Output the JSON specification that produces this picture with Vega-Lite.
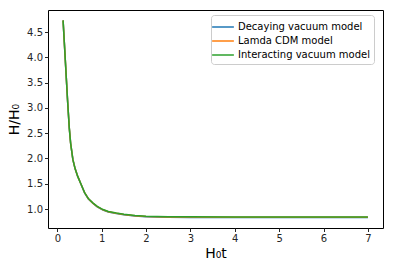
{
  "$schema": "https://vega.github.io/schema/vega-lite/v6.json",
  "width": 335,
  "height": 218,
  "autosize": {"type": "none"},
  "padding": {"left": 48, "top": 10, "right": 10, "bottom": 42},
  "config": {
    "font": "DejaVu Sans",
    "view": {"stroke": "black", "strokeWidth": 1},
    "axis": {"labelFont": "DejaVu Sans", "titleFont": "DejaVu Sans", "labelColor": "#262626", "tickColor": "#262626", "domain": false, "grid": false, "labelFontSize": 10, "tickSize": 3.5, "titleFontWeight": "normal", "titleFontSize": 14, "titleColor": "black"}
  },
  "data": {"values": [
    {"t": 0.13, "h": 4.73, "model": "Decaying vacuum model"},
    {"t": 0.23, "h": 3.16, "model": "Decaying vacuum model"},
    {"t": 0.27, "h": 2.6, "model": "Decaying vacuum model"},
    {"t": 0.3, "h": 2.3, "model": "Decaying vacuum model"},
    {"t": 0.35, "h": 1.98, "model": "Decaying vacuum model"},
    {"t": 0.4, "h": 1.8, "model": "Decaying vacuum model"},
    {"t": 0.46, "h": 1.645, "model": "Decaying vacuum model"},
    {"t": 0.53, "h": 1.5, "model": "Decaying vacuum model"},
    {"t": 0.615, "h": 1.32, "model": "Decaying vacuum model"},
    {"t": 0.7, "h": 1.2, "model": "Decaying vacuum model"},
    {"t": 0.8, "h": 1.115, "model": "Decaying vacuum model"},
    {"t": 0.9, "h": 1.045, "model": "Decaying vacuum model"},
    {"t": 1.03, "h": 0.98, "model": "Decaying vacuum model"},
    {"t": 1.15, "h": 0.943, "model": "Decaying vacuum model"},
    {"t": 1.33, "h": 0.91, "model": "Decaying vacuum model"},
    {"t": 1.5, "h": 0.886, "model": "Decaying vacuum model"},
    {"t": 1.75, "h": 0.862, "model": "Decaying vacuum model"},
    {"t": 2.0, "h": 0.848, "model": "Decaying vacuum model"},
    {"t": 2.5, "h": 0.838, "model": "Decaying vacuum model"},
    {"t": 3.0, "h": 0.834, "model": "Decaying vacuum model"},
    {"t": 4.0, "h": 0.832, "model": "Decaying vacuum model"},
    {"t": 5.0, "h": 0.832, "model": "Decaying vacuum model"},
    {"t": 6.0, "h": 0.832, "model": "Decaying vacuum model"},
    {"t": 7.0, "h": 0.832, "model": "Decaying vacuum model"},
    {"t": 0.13, "h": 4.73, "model": "Lamda CDM model"},
    {"t": 0.23, "h": 3.16, "model": "Lamda CDM model"},
    {"t": 0.27, "h": 2.6, "model": "Lamda CDM model"},
    {"t": 0.3, "h": 2.3, "model": "Lamda CDM model"},
    {"t": 0.35, "h": 1.98, "model": "Lamda CDM model"},
    {"t": 0.4, "h": 1.8, "model": "Lamda CDM model"},
    {"t": 0.46, "h": 1.645, "model": "Lamda CDM model"},
    {"t": 0.53, "h": 1.5, "model": "Lamda CDM model"},
    {"t": 0.615, "h": 1.322, "model": "Lamda CDM model"},
    {"t": 0.7, "h": 1.203, "model": "Lamda CDM model"},
    {"t": 0.8, "h": 1.118, "model": "Lamda CDM model"},
    {"t": 0.9, "h": 1.049, "model": "Lamda CDM model"},
    {"t": 1.03, "h": 0.985, "model": "Lamda CDM model"},
    {"t": 1.15, "h": 0.948, "model": "Lamda CDM model"},
    {"t": 1.33, "h": 0.916, "model": "Lamda CDM model"},
    {"t": 1.5, "h": 0.892, "model": "Lamda CDM model"},
    {"t": 1.75, "h": 0.868, "model": "Lamda CDM model"},
    {"t": 2.0, "h": 0.854, "model": "Lamda CDM model"},
    {"t": 2.5, "h": 0.844, "model": "Lamda CDM model"},
    {"t": 3.0, "h": 0.84, "model": "Lamda CDM model"},
    {"t": 4.0, "h": 0.838, "model": "Lamda CDM model"},
    {"t": 5.0, "h": 0.838, "model": "Lamda CDM model"},
    {"t": 6.0, "h": 0.838, "model": "Lamda CDM model"},
    {"t": 7.0, "h": 0.838, "model": "Lamda CDM model"},
    {"t": 0.13, "h": 4.73, "model": "Interacting vacuum model"},
    {"t": 0.23, "h": 3.16, "model": "Interacting vacuum model"},
    {"t": 0.27, "h": 2.6, "model": "Interacting vacuum model"},
    {"t": 0.3, "h": 2.3, "model": "Interacting vacuum model"},
    {"t": 0.35, "h": 1.98, "model": "Interacting vacuum model"},
    {"t": 0.4, "h": 1.8, "model": "Interacting vacuum model"},
    {"t": 0.46, "h": 1.645, "model": "Interacting vacuum model"},
    {"t": 0.53, "h": 1.5, "model": "Interacting vacuum model"},
    {"t": 0.615, "h": 1.324, "model": "Interacting vacuum model"},
    {"t": 0.7, "h": 1.206, "model": "Interacting vacuum model"},
    {"t": 0.8, "h": 1.122, "model": "Interacting vacuum model"},
    {"t": 0.9, "h": 1.053, "model": "Interacting vacuum model"},
    {"t": 1.03, "h": 0.99, "model": "Interacting vacuum model"},
    {"t": 1.15, "h": 0.953, "model": "Interacting vacuum model"},
    {"t": 1.33, "h": 0.921, "model": "Interacting vacuum model"},
    {"t": 1.5, "h": 0.897, "model": "Interacting vacuum model"},
    {"t": 1.75, "h": 0.873, "model": "Interacting vacuum model"},
    {"t": 2.0, "h": 0.859, "model": "Interacting vacuum model"},
    {"t": 2.5, "h": 0.849, "model": "Interacting vacuum model"},
    {"t": 3.0, "h": 0.845, "model": "Interacting vacuum model"},
    {"t": 4.0, "h": 0.843, "model": "Interacting vacuum model"},
    {"t": 5.0, "h": 0.843, "model": "Interacting vacuum model"},
    {"t": 6.0, "h": 0.843, "model": "Interacting vacuum model"},
    {"t": 7.0, "h": 0.843, "model": "Interacting vacuum model"}
  ]},
  "mark": {"type": "line", "strokeWidth": 1.5},
  "encoding": {
    "x": {"field": "t", "type": "quantitative", "scale": {"domain": [-0.21, 7.34], "nice": false, "zero": false}, "axis": {"values": [0, 1, 2, 3, 4, 5, 6, 7], "title": "H₀t", "titlePadding": 3}},
    "y": {"field": "h", "type": "quantitative", "scale": {"domain": [0.625, 4.935], "nice": false, "zero": false}, "axis": {"values": [1.0, 1.5, 2.0, 2.5, 3.0, 3.5, 4.0, 4.5], "format": ".1f", "title": "H/H₀", "titlePadding": 5}},
    "color": {"field": "model", "type": "nominal",
      "scale": {"domain": ["Decaying vacuum model", "Lamda CDM model", "Interacting vacuum model"], "range": ["#1f77b4", "#ff7f0e", "#2ca02c"]},
      "legend": {"title": null, "orient": "none", "legendX": 163, "legendY": 5, "symbolType": "M-1.5,0L1.5,0", "symbolSize": 210, "symbolStrokeWidth": 1.5, "labelFontSize": 10, "labelColor": "black", "labelFont": "DejaVu Sans", "strokeColor": "#cccccc", "fillColor": "white", "cornerRadius": 3, "padding": 4, "rowPadding": 1, "labelOffset": 7}},
    "order": {"field": "model", "sort": "descending"}
  }
}
